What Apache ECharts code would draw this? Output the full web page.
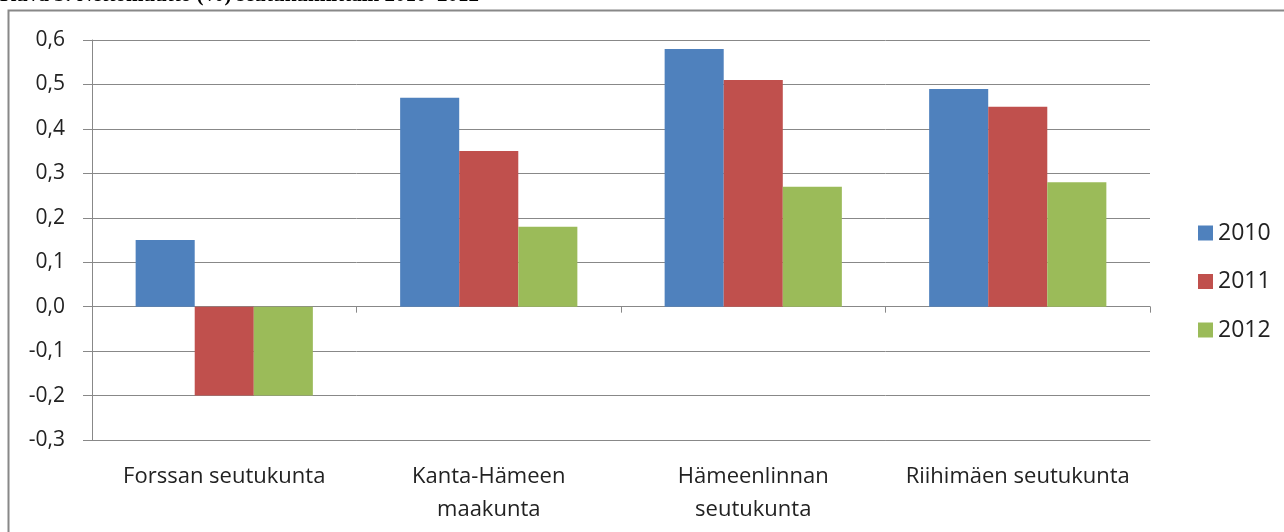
<!DOCTYPE html>
<html><head><meta charset="utf-8">
<script src="https://cdn.jsdelivr.net/npm/echarts@6/dist/echarts.min.js"></script>
<style>html,body{margin:0;padding:0;background:#fff}#c{width:1284px;height:532px}</style>
</head><body><div id="c"></div>
<script>
const categories = ['Forssan seutukunta', 'Kanta-Hämeen\nmaakunta', 'Hämeenlinnan\nseutukunta', 'Riihimäen seutukunta'];
const seriesNames = ['2010', '2011', '2012'];
const v2010 = [0.15, 0.47, 0.58, 0.49];
const v2011 = [-0.2, 0.35, 0.51, 0.45];
const v2012 = [-0.2, 0.18, 0.27, 0.28];
const colors = ['#4F81BD', '#C0504D', '#9BBB59'];
const titleText = 'Kuva 3: Nettomuutto (%) seutukunnittain 2010–2012';

const chart = echarts.init(document.getElementById('c'), null, {renderer: 'canvas'});
const font = 'Open Sans';
const vals = [v2010, v2011, v2012];
chart.setOption({
  animation: false,
  backgroundColor: '#fff',
  color: colors,
  graphic: [
    {type: 'rect', shape: {x: 8.5, y: 10.5, width: 1300, height: 600}, style: {fill: 'none', stroke: '#888', lineWidth: 2}, z: -1},
    {type: 'text', style: {x: 0, y: 6, text: titleText, font: 'bold 21px "Liberation Serif"', fill: '#000', verticalAlign: 'bottom'}}
  ],
  grid: {left: 92, right: 134, top: 40, bottom: 92},
  legend: {
    orient: 'vertical', left: 1193, top: 216, itemWidth: 15, itemHeight: 15, itemGap: 24.5,
    icon: 'rect', data: seriesNames,
    textStyle: {fontFamily: font, fontSize: 23, color: '#222', lineHeight: 24}
  },
  xAxis: [{
    type: 'category', data: categories, position: 'bottom',
    axisLine: {onZero: false, lineStyle: {color: '#888', width: 1}},
    axisTick: {show: false},
    axisLabel: {fontFamily: font, fontSize: 22, color: '#222', margin: 20, lineHeight: 33, interval: 0}
  }, {
    type: 'category', data: categories, position: 'bottom',
    axisLine: {onZero: true, lineStyle: {color: '#888', width: 1}},
    axisTick: {show: true, length: 6, lineStyle: {color: '#888'}},
    axisLabel: {show: false}
  }],
  yAxis: {
    type: 'value', min: -0.3, max: 0.6, interval: 0.1,
    axisLine: {show: true, lineStyle: {color: '#888'}},
    axisTick: {show: true, length: 9, lineStyle: {color: '#888'}},
    splitLine: {lineStyle: {color: '#888', width: 1}},
    axisLabel: {fontFamily: font, fontSize: 21, color: '#222', margin: 27,
      formatter: v => v.toFixed(1).replace('.', ',')}
  },
  series: seriesNames.map((n, i) => ({
    name: n, type: 'bar', xAxisIndex: 0, data: vals[i],
    barGap: '0%', barCategoryGap: '33%',
    itemStyle: {color: colors[i]}
  }))
});
</script></body></html>
